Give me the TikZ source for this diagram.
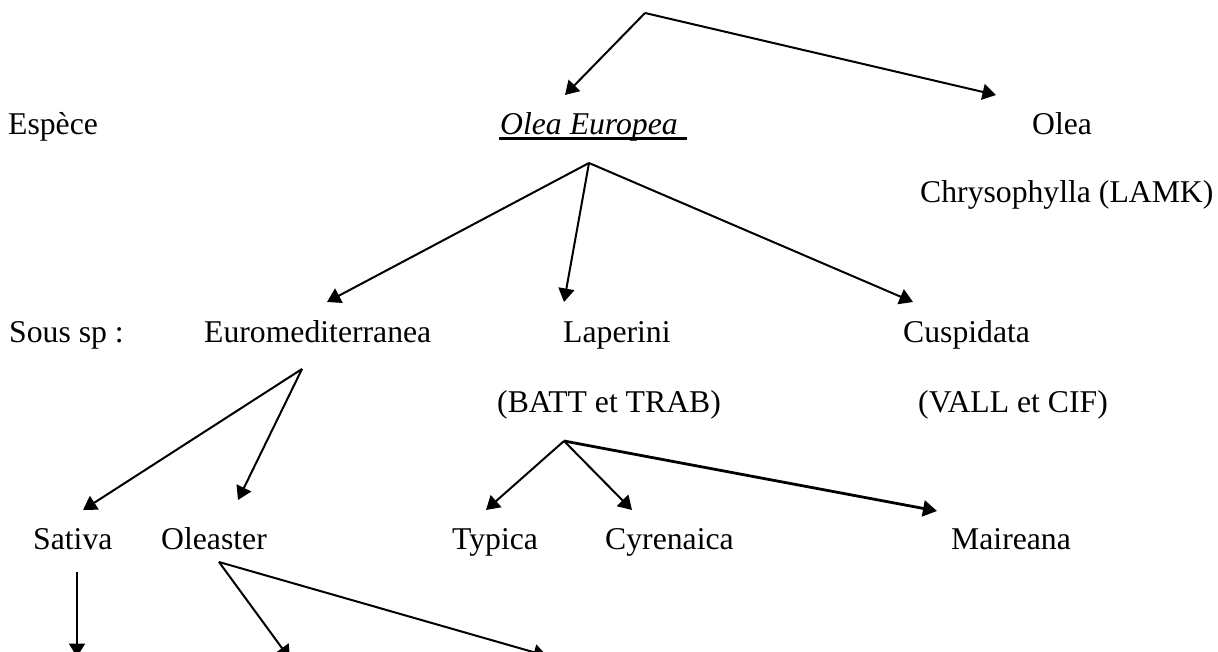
\documentclass[tikz,border=0pt]{standalone}
\usepackage{fontspec}
\setmainfont{Liberation Serif}
\usetikzlibrary{arrows.meta}
\tikzset{
  lbl/.style={anchor=base west, inner sep=0pt, font=\fontsize{31.7}{38}\selectfont},
  arr/.style={line width=2pt, -{Triangle[length=13.5pt,width=16pt]}},
  arrthick/.style={line width=2.8pt, -{Triangle[length=14pt,width=16pt]}},
}
\begin{document}
\begin{tikzpicture}[x=1pt,y=-1pt]
\useasboundingbox (0,0) rectangle (1218,652);
\clip (0,0) rectangle (1218,652);
\fill[white] (0,0) rectangle (1218,652);
% labels
\node[lbl] (espece) at (8,135) {Espèce};
\node[lbl] (oe) at (500,135) {\itshape Olea Europea};
\node[lbl] (olea) at (1032,135) {Olea};
\node[lbl] (chrys) at (920,203) {Chrysophylla (LAMK)};
\node[lbl] (sous) at (9,342) {Sous sp :};
\node[lbl] (euro) at (204,342) {Euromediterranea};
\node[lbl] (lap) at (563,342) {Laperini};
\node[lbl] (cusp) at (903,342) {Cuspidata};
\node[lbl] (batt) at (497,412) {(BATT et TRAB)};
\node[lbl] (vall) at (918,412) {(VALL et CIF)};
\node[lbl] (sat) at (33,549) {Sativa};
\node[lbl] (olst) at (161,549) {Oleaster};
\node[lbl] (typ) at (452,549) {Typica};
\node[lbl] (cyr) at (605,549) {Cyrenaica};
\node[lbl] (mai) at (951,549) {Maireana};
% underline
\draw[line width=2.2pt] ([yshift=-3.5pt,xshift=-1pt]oe.base west) -- ([yshift=-3.5pt,xshift=9pt]oe.base east);
% apex and tip coordinates
\coordinate (a0) at (645,13);
\coordinate (t0a) at (565,95);
\coordinate (t0b) at (996,95);
\coordinate (a1) at (589,163);
\coordinate (t1a) at (327,302);
\coordinate (t1b) at (564,302);
\coordinate (t1c) at (913,302);
\coordinate (a2) at (302,369);
\coordinate (t2a) at (83,510);
\coordinate (t2b) at (238,500);
\coordinate (a3) at (564,441);
\coordinate (t3a) at (486,510);
\coordinate (t3b) at (632,510);
\coordinate (t3c) at (937,511);
\coordinate (s0) at (77,572);
\coordinate (t4) at (77,657);
\coordinate (a4) at (219,562);
\coordinate (t5a) at (290,659);
\coordinate (t5b) at (547,656);
% connectors
\draw[arr] (a0) -- (t0a);
\draw[arr] (a0) -- (t0b);
\draw[arr] (a1) -- (t1a);
\draw[arr] (a1) -- (t1b);
\draw[arr] (a1) -- (t1c);
\draw[arr] (a2) -- (t2a);
\draw[arr] (a2) -- (t2b);
\draw[arr] (a3) -- (t3a);
\draw[arr] (a3) -- (t3b);
\draw[arrthick] (a3) -- (t3c);
\draw[arr] (s0) -- (t4);
\draw[arr] (a4) -- (t5a);
\draw[arr] (a4) -- (t5b);
\end{tikzpicture}
\end{document}
